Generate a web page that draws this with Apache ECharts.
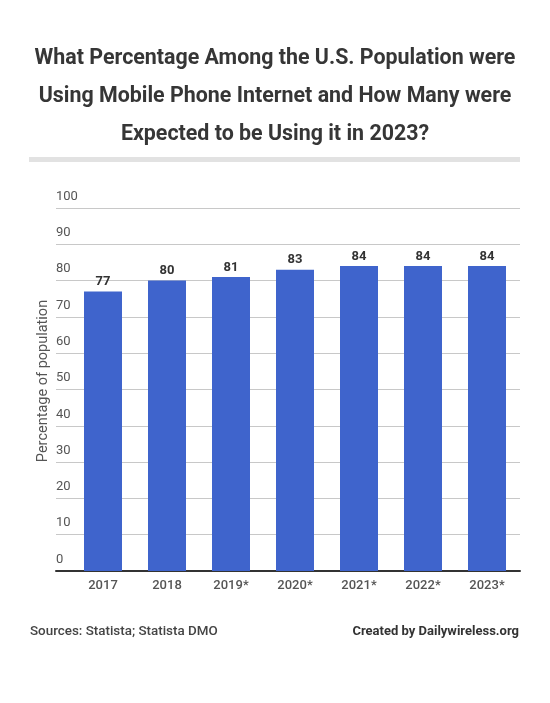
<!DOCTYPE html>
<html><head><meta charset="utf-8">
<script src="https://cdn.jsdelivr.net/npm/echarts@6/dist/echarts.min.js"></script>
<style>html,body{margin:0;padding:0;background:#fff}#c{width:550px;height:703px}</style>
</head><body><div id="c"></div>
<script>
const categories = ['2017','2018','2019*','2020*','2021*','2022*','2023*'];
const values = [77, 80, 81, 83, 84, 84, 84];
const yTicks = [0,10,20,30,40,50,60,70,80,90,100];
const titleText = 'What Percentage Among the U.S. Population were\nUsing Mobile Phone Internet and How Many were\nExpected to be Using it in 2023?';
const yName = 'Percentage of population';
const sourceText = 'Sources: Statista; Statista DMO';
const creditText = 'Created by Dailywireless.org';

const chart = echarts.init(document.getElementById('c'), null, {renderer:'canvas'});
const F = 'Roboto, "Noto Sans", sans-serif';
chart.setOption({
  backgroundColor:'#fff',
  animation:false,
  title:{text:titleText,left:'center',top:35,textStyle:{fontFamily:F,fontSize:21.4,fontWeight:'bold',color:'#363636',lineHeight:38}},
  grid:[
    {left:56,right:30,top:208,bottom:132},
    {left:71,right:31,top:208,bottom:132}
  ],
  xAxis:[
    {type:'category',gridIndex:0,data:categories,axisLine:{show:true,lineStyle:{color:'#333',width:2}},axisTick:{show:false},axisLabel:{show:false}},
    {type:'category',gridIndex:1,data:categories,axisLine:{show:false},axisTick:{show:false},
     axisLabel:{fontFamily:F,fontSize:13,color:'#555',fontWeight:500,margin:8}}
  ],
  yAxis:[
    {type:'value',gridIndex:0,min:yTicks[0],max:yTicks[yTicks.length-1],interval:10,
     axisLine:{show:false},axisTick:{show:false},
     splitLine:{lineStyle:{color:'#c8c8c8',width:1}},
     axisLabel:{inside:true,margin:0,verticalAlign:'bottom',padding:[0,0,5,0],fontFamily:F,fontSize:13,color:'#555'}},
    {type:'value',gridIndex:1,min:yTicks[0],max:yTicks[yTicks.length-1],interval:10,show:false}
  ],
  series:[{
    type:'bar',xAxisIndex:1,yAxisIndex:1,data:values,barWidth:38,
    itemStyle:{color:'#3f64cc'},
    label:{show:true,position:'top',distance:3,fontFamily:F,fontSize:13,fontWeight:'bold',color:'#333'}
  }],
  graphic:[
    {type:'rect',left:29,top:157,shape:{width:491,height:5},style:{fill:'#e2e2e2'}},
    {type:'text',x:43,y:381,rotation:Math.PI/2,style:{text:yName,fontFamily:F,fontSize:14.5,fill:'#555',align:'center',verticalAlign:'middle'}},
    {type:'text',left:30,top:625,style:{text:sourceText,fontFamily:F,fontSize:13.4,fontWeight:500,fill:'#444'}},
    {type:'text',right:31,top:625,style:{text:creditText,fontFamily:F,fontSize:13,fontWeight:'bold',fill:'#333'}}
  ]
});
</script></body></html>
